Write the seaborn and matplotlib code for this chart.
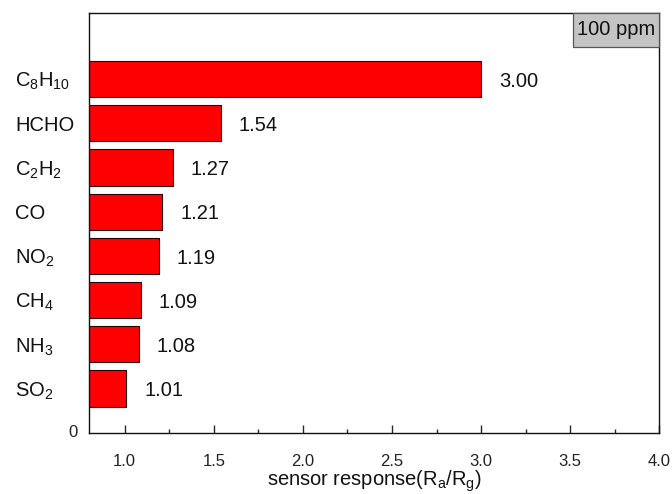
import matplotlib
matplotlib.use("Agg")
import matplotlib.pyplot as plt
import seaborn as sns
import pandas as pd
from matplotlib.ticker import MultipleLocator
from matplotlib.patches import Rectangle

sns.set_theme(style="white")
plt.rcParams["font.family"] = ["Liberation Sans", "DejaVu Sans"]
plt.rcParams["mathtext.fontset"] = "custom"
plt.rcParams["mathtext.rm"] = "Liberation Sans"
plt.rcParams["mathtext.it"] = "Liberation Sans"

gases = [r"C$_8$H$_{10}$", "HCHO", r"C$_2$H$_2$", "CO", r"NO$_2$",
         r"CH$_4$", r"NH$_3$", r"SO$_2$"]
response = [3.00, 1.54, 1.27, 1.21, 1.19, 1.09, 1.08, 1.01]
value_labels = ["3.00", "1.54", "1.27", "1.21", "1.19", "1.09", "1.08", "1.01"]

df = pd.DataFrame({"gas": gases, "response": response})

fig, ax = plt.subplots(figsize=(6.72, 4.94), dpi=100)
fig.subplots_adjust(left=0.1325, right=0.981, top=0.974, bottom=0.124)

sns.barplot(data=df, x="response", y="gas", orient="h", color="#ff0000",
            saturation=1, width=0.82, edgecolor="#2a0000", linewidth=0.8, ax=ax)

for i, (v, t) in enumerate(zip(response, value_labels)):
    ax.annotate(t, xy=(v, i), xytext=(13, -1.5), textcoords="offset points",
                ha="left", va="center", fontsize=14.5, color="#111111")

ax.set_xlim(0.8, 4.0)
ax.set_ylim(8, -1.5)
ax.set_yticks(range(len(gases)))
ax.set_yticklabels(gases)
for lbl in ax.get_yticklabels():
    lbl.set_fontsize(14.5)
    lbl.set_horizontalalignment("left")
ax.tick_params(axis="y", length=0, pad=53, labelcolor="#111111")

# origin label at the lower-left corner
ax.annotate("0", xy=(0, 0), xycoords="axes fraction", xytext=(-8, 0),
            textcoords="offset points", ha="right", va="center",
            fontsize=12, color="#222222")

ax.xaxis.set_major_locator(MultipleLocator(0.5))
ax.xaxis.set_minor_locator(MultipleLocator(0.25))
ax.tick_params(axis="x", which="major", direction="in", length=6, width=1,
               bottom=True, labelsize=12, labelcolor="#222222", pad=15)
ax.tick_params(axis="x", which="minor", direction="in", length=3, width=1, bottom=True)

ax.set_xlabel(r"sensor response(R$_a$/R$_g$)", fontsize=14.5, color="#111111", labelpad=0)
ax.set_ylabel("")

for s in ax.spines.values():
    s.set_color("#111111")
    s.set_linewidth(1.0)

# concentration tag in the upper-right corner
box_w, box_h = 0.151, 0.081
ax.add_patch(Rectangle((1 - box_w, 1 - box_h), box_w, box_h, transform=ax.transAxes,
                       facecolor="#c4c4c4", edgecolor="#555555", linewidth=0.9,
                       zorder=5, clip_on=False))
ax.text(1 - box_w / 2, 1 - box_h / 2, "100 ppm", transform=ax.transAxes,
        ha="center", va="center", fontsize=14.5, color="#111111", zorder=6)

fig.savefig("out.png", dpi=100)
